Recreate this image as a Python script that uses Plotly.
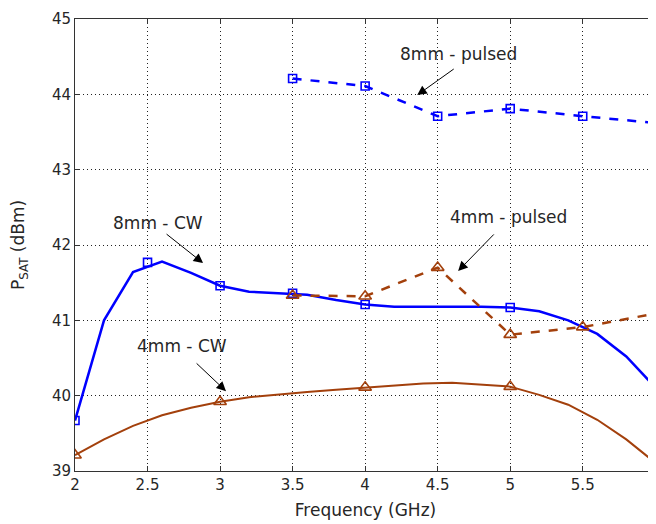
import plotly.graph_objects as go

# ---- data ----
freq_mark_8cw = [2, 2.5, 3, 3.5, 4, 5, 6]
p_mark_8cw = [39.67, 41.77, 41.46, 41.36, 41.21, 41.17, 40.11]
freq_line = [2.0, 2.2, 2.4, 2.6, 2.8, 3.0, 3.2, 3.4, 3.6, 3.8, 4.0,
             4.2, 4.4, 4.6, 4.8, 5.0, 5.2, 5.4, 5.6, 5.8, 6.0]
p_line_8cw = [39.67, 41.0, 41.64, 41.78, 41.63, 41.46, 41.38, 41.36, 41.34, 41.27, 41.21,
              41.18, 41.18, 41.18, 41.18, 41.17, 41.12, 41.0, 40.82, 40.52, 40.11]

freq_mark_4cw = [2, 3, 4, 5, 6]
p_mark_4cw = [39.21, 39.92, 40.11, 40.12, 39.11]
p_line_4cw = [39.21, 39.42, 39.60, 39.74, 39.84, 39.92, 39.98, 40.02, 40.05, 40.08, 40.11,
              40.14, 40.16, 40.17, 40.15, 40.12, 40.01, 39.88, 39.68, 39.42, 39.11]

freq_pulsed = [3.5, 4, 4.5, 5, 5.5, 6]
p_8_pulsed = [44.21, 44.11, 43.71, 43.81, 43.71, 43.62]
p_4_pulsed = [41.33, 41.32, 41.70, 40.81, 40.91, 41.09]

x_ticks = [2, 2.5, 3, 3.5, 4, 4.5, 5, 5.5, 6]
y_ticks = [39, 40, 41, 42, 43, 44, 45]

# annotation: label, text pos, arrow tail, arrow head (data coords)
labels = ["8mm - pulsed", "4mm - pulsed", "8mm - CW", "4mm - CW"]
label_pos = [(4.641, 44.535), (4.986, 42.37), (2.572, 42.29), (2.738, 40.66)]
arrow_tail = [(4.621, 44.35), (4.897, 42.16), (2.621, 42.16), (2.828, 40.447)]
arrow_head = [(4.359, 43.99), (4.641, 41.655), (2.883, 41.76), (3.041, 40.06)]

BLUE = "#0000FF"
BROWN = "#A3400C"
FONT = "DejaVu Sans"
TXT = "#262626"

fig = go.Figure()

fig.add_trace(go.Scatter(x=freq_line, y=p_line_8cw, mode="lines",
                         line=dict(color=BLUE, width=2.5), showlegend=False))
fig.add_trace(go.Scatter(x=freq_mark_8cw, y=p_mark_8cw, mode="markers",
                         marker=dict(symbol="square-open", size=8, color=BLUE,
                                     line=dict(width=1.6, color=BLUE)), showlegend=False))
fig.add_trace(go.Scatter(x=freq_pulsed, y=p_8_pulsed, mode="lines+markers",
                         line=dict(color=BLUE, width=2.5, dash="dash"),
                         marker=dict(symbol="square-open", size=8, color=BLUE,
                                     line=dict(width=1.6, color=BLUE)), showlegend=False))
fig.add_trace(go.Scatter(x=freq_line, y=p_line_4cw, mode="lines",
                         line=dict(color=BROWN, width=2), showlegend=False))
fig.add_trace(go.Scatter(x=freq_mark_4cw, y=p_mark_4cw, mode="markers",
                         marker=dict(symbol="triangle-up-open", size=11, color=BROWN,
                                     line=dict(width=1.6, color=BROWN)), showlegend=False))
fig.add_trace(go.Scatter(x=freq_pulsed, y=p_4_pulsed, mode="lines+markers",
                         line=dict(color=BROWN, width=2.5, dash="dash"),
                         marker=dict(symbol="triangle-up-open", size=11, color=BROWN,
                                     line=dict(width=1.6, color=BROWN)), showlegend=False))

for lab, (tx, ty), (ax, ay), (hx, hy) in zip(labels, label_pos, arrow_tail, arrow_head):
    fig.add_annotation(x=tx, y=ty, xref="x", yref="y", text=lab, showarrow=False,
                       font=dict(family=FONT, size=17, color=TXT),
                       xanchor="center", yanchor="middle")
    fig.add_annotation(x=hx, y=hy, ax=ax, ay=ay, xref="x", yref="y",
                       axref="x", ayref="y", text="", showarrow=True,
                       arrowhead=2, arrowsize=1.9, arrowwidth=1, arrowcolor="black",
                       standoff=0, startstandoff=0)

axis_common = dict(
    showline=True, linecolor="#333333", linewidth=1, mirror="ticks",
    ticks="inside", ticklen=5, tickcolor="#333333",
    showgrid=True, gridcolor="#222222", griddash="1px,3px", gridwidth=1,
    zeroline=False, tickfont=dict(family=FONT, size=15, color=TXT),
    automargin=False,
)

fig.update_xaxes(range=[2, 6.005], tickvals=x_ticks, ticktext=[f"{v:g}" for v in x_ticks],
                 title=dict(text="Frequency (GHz)", font=dict(family=FONT, size=17, color=TXT),
                            standoff=11),
                 ticklabeloverflow="allow", **axis_common)
fig.update_yaxes(range=[39, 45], tickvals=y_ticks,
                 title=dict(text="P<sub>SAT</sub> (dBm)", font=dict(family=FONT, size=17, color=TXT),
                            standoff=22),
                 **axis_common)

# page body has an 8px margin, so the figure is 8px smaller than the window
fig.update_layout(width=648, height=516, margin=dict(l=67, r=0, t=11, b=53),
                  plot_bgcolor="white", paper_bgcolor="white")

fig.write_html("out.html")
